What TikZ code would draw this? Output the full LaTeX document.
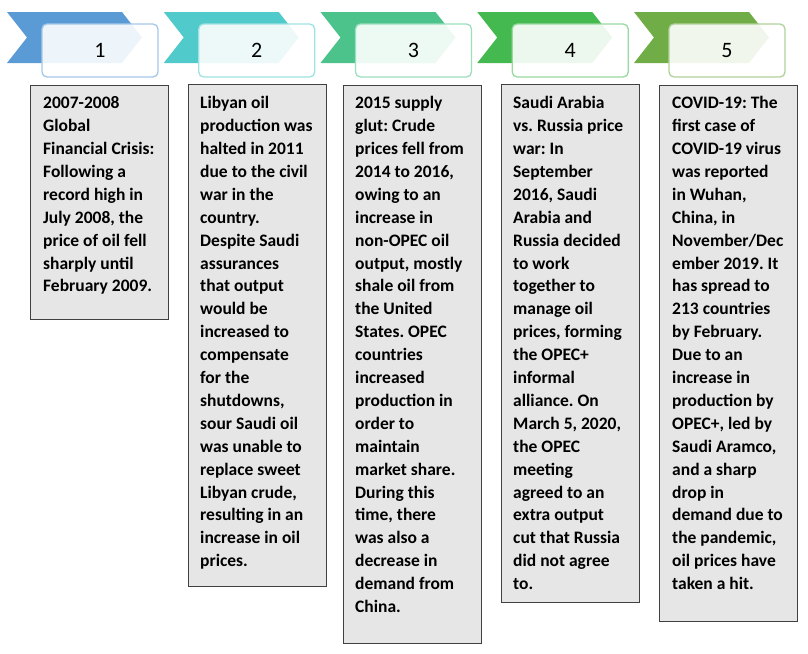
\documentclass[tikz,border=0pt]{standalone}
\usepackage{fontspec}
\setmainfont{Carlito}
\definecolor{c1}{RGB}{91,155,213}
\definecolor{c2}{RGB}{80,202,202}
\definecolor{c3}{RGB}{76,195,138}
\definecolor{c4}{RGB}{68,185,80}
\definecolor{c5}{RGB}{112,173,71}
\definecolor{boxfill}{RGB}{231,230,230}
\definecolor{boxline}{RGB}{64,64,64}
\tikzset{
  numbox/.style={rounded corners=5pt, line width=1.3pt, fill=white, fill opacity=0.9, text opacity=1,
    minimum width=116pt, minimum height=53pt, inner sep=0pt, font=\fontsize{22pt}{26pt}\selectfont},
  graybox/.style={draw=boxline, fill=boxfill, line width=1.3pt, anchor=north west, inner sep=0pt, minimum width=138pt},
  txt/.style={anchor=north west, inner sep=0pt, align=left, font=\fontsize{17.5pt}{22.9pt}\selectfont\bfseries\frenchspacing}
}
\frenchspacing
\newcommand{\fs}{\rule{0pt}{14pt}}
\begin{document}
\begin{tikzpicture}[x=1pt,y=-1pt]
\useasboundingbox (0,0) rectangle (808,653);
\foreach \i/\c in {0/c1,1/c2,2/c3,3/c4,4/c5} {
  \pgfmathsetmacro\xo{7+156.75*\i}
  \fill[\c] (\xo,12) -- ++(115,0) -- ++(20,25.5) -- ++(-20,25.5) -- ++(-115,0) -- ++(20,-25.5) -- cycle;
  \node[numbox, draw=\c!55!white] (n\i) at (\xo+93,50.5) {\the\numexpr\i+1\relax};
}
% gray boxes
\node[graybox, minimum height=234pt] (b1) at (30,85) {};
\node[graybox, minimum height=502pt] (b2) at (188,84) {};
\node[graybox, minimum height=558pt] (b3) at (343,85) {};
\node[graybox, minimum height=518pt] (b4) at (501,84) {};
\node[graybox, minimum height=536pt] (b5) at (659,85) {};
% texts
\node[txt] (t1) at (43,94.5) {\fs 2007-2008\\Global\\Financial Crisis:\\Following a\\record high in\\July 2008, the\\price of oil fell\\sharply until\\February 2009.};
\node[txt] (t2) at (200,94.5) {\fs Libyan oil\\production was\\halted in 2011\\due to the civil\\war in the\\country.\\Despite Saudi\\assurances\\that output\\would be\\increased to\\compensate\\for the\\shutdowns,\\sour Saudi oil\\was unable to\\replace sweet\\Libyan crude,\\resulting in an\\increase in oil\\prices.};
\node[txt] (t3) at (355,94.5) {\fs 2015 supply\\glut: Crude\\prices fell from\\2014 to 2016,\\owing to an\\increase in\\non-OPEC oil\\output, mostly\\shale oil from\\the United\\States. OPEC\\countries\\increased\\production in\\order to\\maintain\\market share.\\During this\\time, there\\was also a\\decrease in\\demand from\\China.};
\node[txt] (t4) at (513,94.5) {\fs Saudi Arabia\\vs. Russia price\\war: In\\September\\2016, Saudi\\Arabia and\\Russia decided\\to work\\together to\\manage oil\\prices, forming\\the OPEC+\\informal\\alliance. On\\March 5, 2020,\\the OPEC\\meeting\\agreed to an\\extra output\\cut that Russia\\did not agree\\to.};
\node[txt] (t5) at (672,94.5) {\fs COVID-19: The\\first case of\\COVID-19 virus\\was reported\\in Wuhan,\\China, in\\November/Dec\\ember 2019. It\\has spread to\\213 countries\\by February.\\Due to an\\increase in\\production by\\OPEC+, led by\\Saudi Aramco,\\and a sharp\\drop in\\demand due to\\the pandemic,\\oil prices have\\taken a hit.};
\end{tikzpicture}
\end{document}
